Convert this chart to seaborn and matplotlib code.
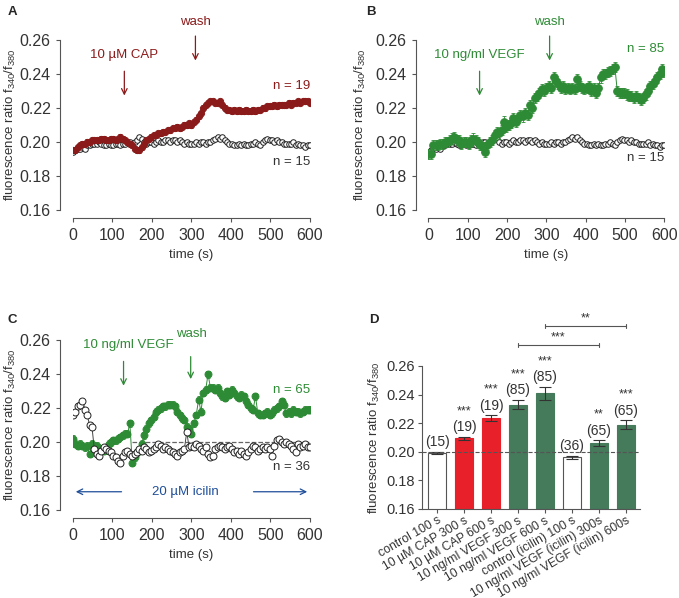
import numpy as np
import pandas as pd
import seaborn as sns
import matplotlib.pyplot as plt

# time axis of the recordings (s), one sample every 6 s
time_s = np.arange(0, 601, 6)

# control cells, n = 15 (panels A and B)
control = [0.194, 0.195, 0.196, 0.196, 0.197, 0.196, 0.198, 0.198, 0.199, 0.199,
           0.199, 0.200, 0.199, 0.198, 0.198, 0.199, 0.198, 0.198, 0.199, 0.199,
           0.198, 0.199, 0.199, 0.200, 0.200, 0.199, 0.200, 0.201, 0.203, 0.202,
           0.200, 0.199, 0.200, 0.200, 0.199, 0.200, 0.201, 0.200, 0.200, 0.201,
           0.201, 0.200, 0.201, 0.201, 0.200, 0.201, 0.200, 0.199, 0.200, 0.199,
           0.199, 0.199, 0.200, 0.199, 0.200, 0.200, 0.199, 0.200, 0.200, 0.201,
           0.202, 0.203, 0.202, 0.203, 0.201, 0.200, 0.199, 0.199, 0.198, 0.198,
           0.199, 0.198, 0.199, 0.198, 0.198, 0.199, 0.199, 0.200, 0.199, 0.198,
           0.200, 0.201, 0.202, 0.201, 0.201, 0.200, 0.201, 0.200, 0.200, 0.199,
           0.199, 0.199, 0.199, 0.200, 0.198, 0.199, 0.198, 0.198, 0.197, 0.198,
           0.198]

# 10 uM capsaicin, n = 19 (panel A)
cap = [0.195, 0.195, 0.197, 0.198, 0.199, 0.199, 0.200, 0.200, 0.201, 0.201,
       0.201, 0.201, 0.202, 0.202, 0.201, 0.201, 0.202, 0.202, 0.201, 0.202,
       0.203, 0.202, 0.201, 0.200, 0.199, 0.198, 0.196, 0.195, 0.195, 0.197,
       0.199, 0.201, 0.202, 0.203, 0.204, 0.204, 0.205, 0.205, 0.206, 0.206,
       0.207, 0.207, 0.208, 0.208, 0.209, 0.208, 0.209, 0.210, 0.210, 0.211,
       0.210, 0.212, 0.213, 0.215, 0.217, 0.220, 0.222, 0.223, 0.224, 0.224,
       0.223, 0.223, 0.224, 0.222, 0.220, 0.219, 0.219, 0.218, 0.219, 0.218,
       0.219, 0.218, 0.218, 0.219, 0.218, 0.218, 0.219, 0.218, 0.219, 0.219,
       0.220, 0.220, 0.221, 0.221, 0.221, 0.222, 0.221, 0.222, 0.222, 0.222,
       0.222, 0.223, 0.222, 0.223, 0.223, 0.224, 0.223, 0.224, 0.224, 0.224,
       0.223]

# 10 ng/ml VEGF, n = 85 (panel B)
vegf = [0.193, 0.193, 0.198, 0.198, 0.198, 0.199, 0.199, 0.200, 0.200, 0.201,
        0.202, 0.203, 0.201, 0.201, 0.199, 0.200, 0.200, 0.199, 0.201, 0.202,
        0.201, 0.200, 0.198, 0.197, 0.194, 0.198, 0.200, 0.201, 0.204, 0.206,
        0.205, 0.207, 0.212, 0.209, 0.210, 0.211, 0.214, 0.212, 0.214, 0.216,
        0.215, 0.217, 0.216, 0.222, 0.220, 0.226, 0.227, 0.229, 0.231, 0.230,
        0.232, 0.233, 0.232, 0.238, 0.236, 0.234, 0.232, 0.233, 0.231, 0.232,
        0.231, 0.232, 0.231, 0.237, 0.233, 0.232, 0.231, 0.232, 0.233, 0.230,
        0.232, 0.229, 0.232, 0.238, 0.240, 0.240, 0.241, 0.242, 0.243, 0.244,
        0.230, 0.229, 0.229, 0.229, 0.228, 0.227, 0.227, 0.226, 0.227, 0.226,
        0.225, 0.226, 0.228, 0.230, 0.233, 0.234, 0.236, 0.238, 0.240, 0.243,
        0.241]

# icilin control, n = 36 (panel C)
icilin_ctrl = [0.216, 0.218, 0.221, 0.222, 0.224, 0.219, 0.216, 0.210, 0.209, 0.196,
               0.193, 0.192, 0.195, 0.197, 0.196, 0.195, 0.194, 0.192, 0.191, 0.189,
               0.188, 0.192, 0.194, 0.195, 0.193, 0.192, 0.193, 0.194, 0.196, 0.195,
               0.197, 0.196, 0.194, 0.195, 0.196, 0.197, 0.199, 0.198, 0.196, 0.197,
               0.196, 0.195, 0.194, 0.193, 0.192, 0.194, 0.195, 0.196, 0.206, 0.197,
               0.198, 0.197, 0.199, 0.198, 0.196, 0.195, 0.197, 0.193, 0.191, 0.192,
               0.196, 0.197, 0.198, 0.197, 0.196, 0.197, 0.198, 0.196, 0.194, 0.195,
               0.193, 0.195, 0.193, 0.192, 0.194, 0.196, 0.198, 0.197, 0.195, 0.196,
               0.197, 0.196, 0.197, 0.196, 0.192, 0.198, 0.201, 0.202, 0.200, 0.199,
               0.200, 0.199, 0.198, 0.196, 0.194, 0.199, 0.197, 0.198, 0.199, 0.197,
               0.197]

# VEGF in presence of icilin, n = 65 (panel C)
icilin_vegf = [0.202, 0.199, 0.198, 0.199, 0.198, 0.197, 0.198, 0.193, 0.199, 0.198,
               0.198, 0.196, 0.195, 0.195, 0.197, 0.199, 0.200, 0.201, 0.201, 0.202,
               0.203, 0.204, 0.205, 0.205, 0.211, 0.188, 0.191, 0.194, 0.195, 0.199,
               0.204, 0.208, 0.211, 0.213, 0.215, 0.218, 0.219, 0.220, 0.221, 0.221,
               0.222, 0.222, 0.222, 0.221, 0.218, 0.216, 0.214, 0.213, 0.209, 0.208,
               0.205, 0.211, 0.216, 0.225, 0.218, 0.229, 0.231, 0.240, 0.232, 0.232,
               0.231, 0.232, 0.229, 0.227, 0.226, 0.230, 0.228, 0.231, 0.229, 0.227,
               0.226, 0.228, 0.227, 0.224, 0.222, 0.220, 0.219, 0.227, 0.217, 0.216,
               0.216, 0.217, 0.218, 0.216, 0.217, 0.219, 0.220, 0.221, 0.224, 0.222,
               0.217, 0.218, 0.217, 0.219, 0.218, 0.218, 0.217, 0.218, 0.219, 0.219,
               0.219]

# typical SEM of each trace
sem_control, sem_cap, sem_vegf = 0.0008, 0.0015, 0.003
sem_icilin_ctrl, sem_icilin_vegf = 0.0008, 0.002

# panel D summary
bar_labels = ['control 100 s', '10 µM CAP 300 s', '10 µM CAP 600 s',
              '10 ng/ml VEGF 300 s', '10 ng/ml VEGF 600 s', 'control (icilin) 100 s',
              '10 ng/ml VEGF (icilin) 300s', '10 ng/ml VEGF (icilin) 600s']
bar_means = [0.199, 0.2095, 0.2235, 0.233, 0.241, 0.196, 0.206, 0.219]
bar_sem = [0.0008, 0.001, 0.002, 0.003, 0.0045, 0.001, 0.002, 0.003]
bar_n = ['(15)', '(19)', '(19)', '(85)', '(85)', '(36)', '(65)', '(65)']
bar_stars = ['', '***', '***', '***', '***', '', '**', '***']
bar_colors = ['white', '#e8202a', '#e8202a', '#457a5b', '#457a5b', 'white', '#457a5b', '#457a5b']

DARKRED = '#8b1a1a'
GREEN = '#2e8b35'
BLUE = '#1f4e9a'
GREY = '#333333'

sns.set_style('ticks')
plt.rcParams['font.family'] = ['Liberation Sans', 'DejaVu Sans']
plt.rcParams['axes.edgecolor'] = '#555555'
plt.rcParams['xtick.color'] = '#555555'
plt.rcParams['ytick.color'] = '#555555'
plt.rcParams['xtick.labelcolor'] = GREY
plt.rcParams['ytick.labelcolor'] = GREY
plt.rcParams['font.size'] = 10

fig = plt.figure(figsize=(6.79, 5.98), dpi=100)
ylab = 'fluorescence ratio f$_\\mathregular{340}$/f$_\\mathregular{380}$'


def trace(ax, y, sem, color, filled, size, z):
    sns.lineplot(x=time_s, y=y, ax=ax, color='#444444' if not filled else color,
                 lw=0.7, marker='o', markersize=size,
                 markerfacecolor=color if filled else 'white',
                 markeredgecolor=color if filled else '#222222',
                 markeredgewidth=0.7, zorder=z)
    ax.errorbar(time_s, y, yerr=sem, fmt='none', ecolor=color if filled else '#444444',
                elinewidth=0.6, capsize=1.5, capthick=0.6, zorder=z - 0.5)


def style_trace(ax, label_x):
    ax.set_xlim(0, 600)
    ax.set_ylim(0.16, 0.26)
    ax.set_xticks([0, 100, 200, 300, 400, 500, 600])
    ax.set_yticks([0.16, 0.18, 0.20, 0.22, 0.24, 0.26])
    ax.yaxis.set_major_formatter(plt.FormatStrFormatter('%.2f'))
    ax.set_xlabel('time (s)', color=GREY, fontsize=9.5)
    ax.set_ylabel(ylab, color=GREY, fontsize=9.5)
    ax.yaxis.set_label_coords(label_x, 0.5)
    ax.tick_params(length=3, width=0.8, labelsize=11.5, pad=4)
    sns.despine(ax=ax, offset={'left': 9, 'bottom': 6})


def arrow(ax, x, y0, y1, color):
    ax.annotate('', xy=(x, y1), xytext=(x, y0), annotation_clip=False,
                arrowprops=dict(arrowstyle='->', color=color, lw=0.9))


# panel A
axA = fig.add_axes([0.1075, 0.649, 0.349, 0.284])
trace(axA, control, sem_control, 'black', False, 4, 3)
trace(axA, cap, sem_cap, DARKRED, True, 4.5, 4)
style_trace(axA, -0.232)
axA.text(130, 0.2512, '10 µM CAP', color=DARKRED, ha='center', va='center', fontsize=9.5)
arrow(axA, 130, 0.2433, 0.2257, DARKRED)
axA.text(309, 0.2705, 'wash', color=DARKRED, ha='center', va='center', fontsize=9.5)
arrow(axA, 310, 0.264, 0.2463, DARKRED)
axA.text(600, 0.233, 'n = 19', color=DARKRED, ha='right', va='center', fontsize=9.5)
axA.text(600, 0.1884, 'n = 15', color=GREY, ha='right', va='center', fontsize=9.5)

# panel B
axB = fig.add_axes([0.631, 0.649, 0.3476, 0.284])
trace(axB, control, sem_control, 'black', False, 4, 3)
trace(axB, vegf, sem_vegf, GREEN, True, 5.5, 4)
style_trace(axB, -0.255)
axB.text(130, 0.2512, '10 ng/ml VEGF', color=GREEN, ha='center', va='center', fontsize=9.5)
arrow(axB, 130, 0.2433, 0.2257, GREEN)
axB.text(308, 0.2705, 'wash', color=GREEN, ha='center', va='center', fontsize=9.5)
arrow(axB, 308, 0.264, 0.2463, GREEN)
axB.text(600, 0.2545, 'n = 85', color=GREEN, ha='right', va='center', fontsize=9.5)
axB.text(600, 0.1905, 'n = 15', color=GREY, ha='right', va='center', fontsize=9.5)

# panel C
axC = fig.add_axes([0.1075, 0.147, 0.349, 0.284])
axC.plot([150, 600], [0.200, 0.200], ls='--', color='#666666', lw=0.9, zorder=1)
trace(axC, icilin_vegf, sem_icilin_vegf, GREEN, True, 5, 3)
trace(axC, icilin_ctrl, sem_icilin_ctrl, 'black', False, 5, 4)
style_trace(axC, -0.232)
axC.text(140, 0.257, '10 ng/ml VEGF', color=GREEN, ha='center', va='center', fontsize=9.5)
arrow(axC, 128, 0.2492, 0.2316, GREEN)
axC.text(301, 0.2635, 'wash', color=GREEN, ha='center', va='center', fontsize=9.5)
arrow(axC, 298, 0.252, 0.2355, GREEN)
axC.text(600, 0.2306, 'n = 65', color=GREEN, ha='right', va='center', fontsize=9.5)
axC.text(600, 0.1855, 'n = 36', color=GREY, ha='right', va='center', fontsize=9.5)
axC.text(284, 0.1705, '20 µM icilin', color=BLUE, ha='center', va='center', fontsize=9.5)
axC.annotate('', xy=(0, 0.1708), xytext=(130, 0.1708),
             arrowprops=dict(arrowstyle='->', color=BLUE, lw=0.9))
axC.annotate('', xy=(600, 0.1708), xytext=(450, 0.1708),
             arrowprops=dict(arrowstyle='->', color=BLUE, lw=0.9))

# panel D
axD = fig.add_axes([0.6215, 0.149, 0.321, 0.239])
dfD = pd.DataFrame({'cond': bar_labels, 'ratio': bar_means})
sns.barplot(data=dfD, x='cond', y='ratio', hue='cond', palette=bar_colors,
            saturation=1, legend=False, width=0.68, edgecolor='#555555',
            linewidth=0.8, ax=axD)
for p, c in zip(axD.patches, bar_colors):
    if c != 'white':
        p.set_edgecolor(c)
xs = np.arange(len(bar_means))
axD.errorbar(xs, bar_means, yerr=bar_sem, fmt='none', ecolor='#333333',
             elinewidth=0.8, capsize=4, capthick=0.8, zorder=5)
axD.axhline(0.200, ls='--', color='#555555', lw=0.8, zorder=6)
axD.set_xlim(-0.56, 7.52)
axD.set_ylim(0.16, 0.26)
axD.set_yticks([0.16, 0.18, 0.20, 0.22, 0.24, 0.26])
axD.yaxis.set_major_formatter(plt.FormatStrFormatter('%.2f'))
axD.set_xlabel('')
axD.set_ylabel(ylab, color=GREY, fontsize=9.5)
axD.yaxis.set_label_coords(-0.183, 0.5)
axD.tick_params(axis='y', length=3, width=0.8, labelsize=10.5, pad=2)
axD.tick_params(axis='x', length=3, width=0.8, labelsize=8.8, pad=1)
plt.setp(axD.get_xticklabels(), rotation=30, ha='right', rotation_mode='anchor')
sns.despine(ax=axD)
for x, m, s, n, st in zip(xs, bar_means, bar_sem, bar_n, bar_stars):
    axD.annotate(n, (x, m + s), xytext=(0, 2), textcoords='offset points',
                 ha='center', va='bottom', fontsize=10, color=GREY)
    if st:
        axD.annotate(st, (x, m + s), xytext=(0, 14), textcoords='offset points',
                     ha='center', va='bottom', fontsize=9, color=GREY)
for (i0, i1, yb, st) in [(3, 6, 0.2747, '***'), (4, 7, 0.288, '**')]:
    axD.plot([i0, i1], [yb, yb], color='#555555', lw=0.8, clip_on=False)
    axD.plot([i0, i0], [yb - 0.0015, yb + 0.0015], color='#555555', lw=0.8, clip_on=False)
    axD.plot([i1, i1], [yb - 0.0015, yb + 0.0015], color='#555555', lw=0.8, clip_on=False)
    axD.text((i0 + i1) / 2, yb + 0.001, st, ha='center', va='bottom', fontsize=9,
             color=GREY)

# panel letters
for lx, ly, letter in [(8, 6, 'A'), (366, 6, 'B'), (8, 314, 'C'), (369, 314, 'D')]:
    fig.text(lx / 679, 1 - ly / 598, letter, fontsize=9.5, fontweight='bold',
             va='top', ha='left')

fig.savefig('out.png', dpi=100)
